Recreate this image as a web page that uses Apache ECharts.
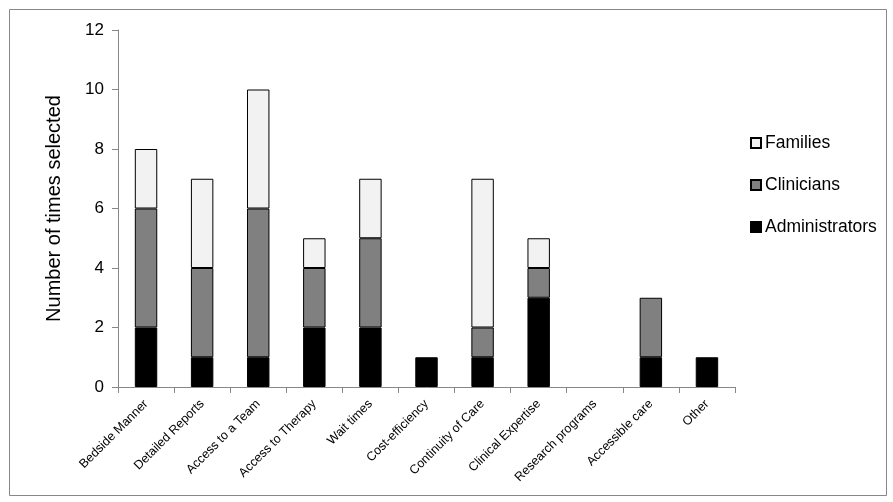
<!DOCTYPE html>
<html><head><meta charset="utf-8">
<script src="https://cdn.jsdelivr.net/npm/echarts@6/dist/echarts.min.js"></script>
<style>html,body{margin:0;padding:0;background:#fff}#c{width:893px;height:502px}</style>
</head><body><div id="c"></div>
<script>
const categories = ['Bedside Manner','Detailed Reports','Access to a Team','Access to Therapy','Wait times','Cost-efficiency','Continuity of Care','Clinical Expertise','Research programs','Accessible care','Other'];
const administrators = [2,1,1,2,2,1,1,3,0,1,1];
const clinicians = [4,3,5,2,3,0,1,1,0,2,0];
const families = [2,3,4,1,2,0,5,1,0,0,0];
const yTicks = [0,2,4,6,8,10,12];

const font = 'Arial, "Liberation Sans", sans-serif';
const nz = a => a.map(v => v === 0 ? '-' : v);
const chart = echarts.init(document.getElementById('c'));
chart.setOption({
  animation: false,
  backgroundColor: '#fff',
  graphic: [{type:'rect', shape:{x:9.5,y:9.5,width:877,height:486}, style:{fill:'none', stroke:'#878787', lineWidth:1}, z:-1}],
  grid: {left:118, right:158, top:30, bottom:115, containLabel:false},
  legend: {
    orient:'vertical', left:745, top:129, itemGap:24, itemWidth:10, itemHeight:10,
    icon:'rect',
    data:['Families','Clinicians','Administrators'],
    textStyle:{fontFamily:font, fontSize:17.5, color:'#000', padding:[0,0,0,-1]}
  },
  xAxis: {
    type:'category', data:categories,
    axisLine:{lineStyle:{color:'#878787', width:1}},
    axisTick:{show:true, alignWithLabel:false, length:6, lineStyle:{color:'#878787'}},
    axisLabel:{rotate:45, interval:0, fontFamily:'"Liberation Sans Narrow", "Arial Narrow", Arial, sans-serif', fontSize:12.5, color:'#000', margin:15}
  },
  yAxis: {
    type:'value', min:0, max:12, interval:2,
    name:'Number of times selected', nameLocation:'middle', nameGap:54, nameRotate:90,
    nameTextStyle:{fontFamily:font, fontSize:20, color:'#000'},
    axisLine:{show:true, lineStyle:{color:'#878787'}},
    axisTick:{show:true, length:6, lineStyle:{color:'#878787'}},
    splitLine:{show:false},
    axisLabel:{fontFamily:font, fontSize:17, color:'#000', margin:14, formatter: v => yTicks.includes(v) ? String(v) : ''}
  },
  series: [
    {name:'Administrators', type:'bar', stack:'s', data:nz(administrators), barWidth:'40%',
     itemStyle:{color:'#000000', borderColor:'#000', borderWidth:1}},
    {name:'Clinicians', type:'bar', stack:'s', data:nz(clinicians), barWidth:'40%',
     itemStyle:{color:'#808080', borderColor:'#000', borderWidth:1}},
    {name:'Families', type:'bar', stack:'s', data:nz(families), barWidth:'40%',
     itemStyle:{color:'#f2f2f2', borderColor:'#000', borderWidth:1}}
  ]
});
</script></body></html>
